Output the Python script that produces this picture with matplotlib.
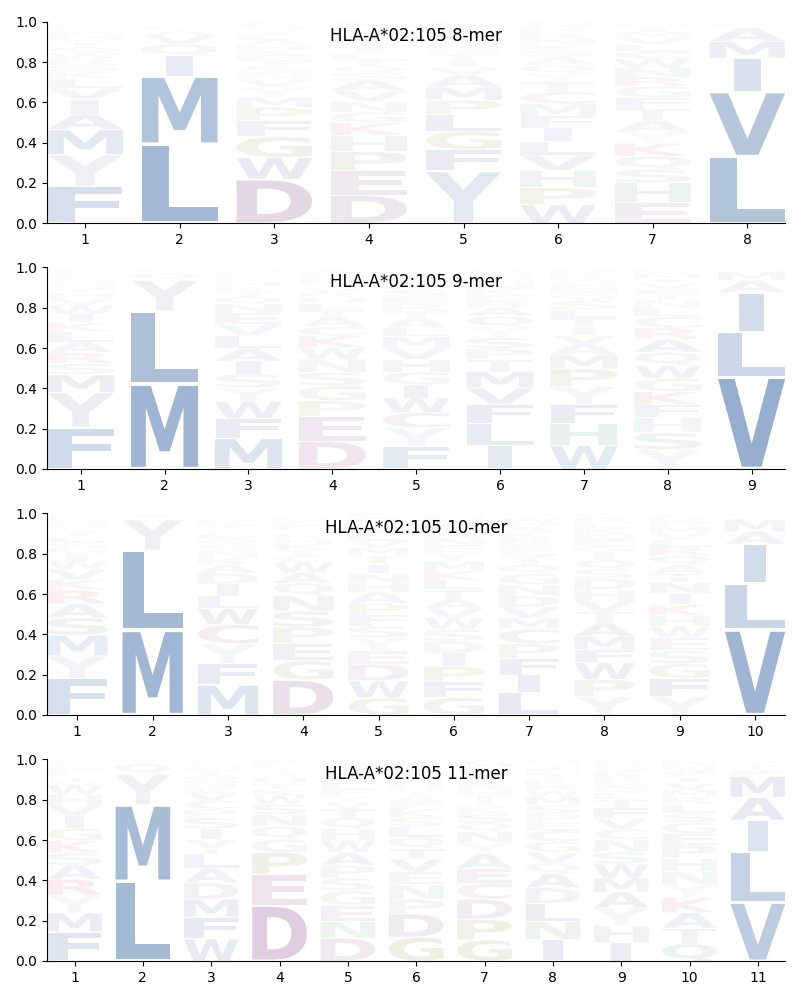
import matplotlib
matplotlib.use('Agg')
import matplotlib.pyplot as plt
from matplotlib.textpath import TextPath
from matplotlib.patches import PathPatch
from matplotlib.font_manager import FontProperties
from matplotlib.transforms import Affine2D

allele = 'HLA-A*02:105'

aa8 = ['FYMIAVLKSRWQTHNEDCGP', 'LMIQVATFYS', 'DWGFPMYVNSTEKHALIQRC',
       'DEPHKGNVASQTLIYFWMRC', 'YFGLPMAVITSNQHWEKRDC', 'WPHVLIFMCTYQASENRKDG',
       'EHSQKYATFGRNWCLVMIDP', 'LVIMATFC']
p8 = [[.177, .154, .12, .07, .075, .055, .045, .035, .03, .03, .03, .025, .025, .02, .02, .015, .015, .01, .01, .01],
      [.385, .33, .10, .055, .045, .02, .015, .01, .01, .01],
      [.218, .108, .104, .08, .066, .05, .05, .04, .03, .03, .03, .03, .025, .025, .025, .025, .02, .02, .015, .01],
      [.132, .116, .09, .075, .06, .05, .05, .05, .05, .035, .03, .03, .03, .025, .025, .025, .02, .02, .02, .015],
      [.26, .107, .09, .083, .072, .065, .06, .04, .03, .03, .025, .02, .02, .02, .02, .015, .015, .01, .01, .01],
      [.09, .083, .083, .074, .066, .066, .058, .058, .058, .05, .04, .04, .04, .03, .03, .025, .025, .02, .02, .02],
      [.09, .088, .058, .058, .058, .05, .05, .05, .05, .05, .04, .04, .04, .033, .03, .03, .025, .02, .015, .01],
      [.32, .31, .16, .08, .065, .01, .01, .01]]

aa9 = ['FYMSRALKIWVHTQNCEDGP', 'MLYQVFI', 'MFWYSIALVENQTKHRCPGD',
       'DEPGSNWKCATLHRVYMFIQ', 'FYCWIGHVMLATRESKQNDP', 'ILFVMTPSYQAREKNHWGDC',
       'WHFYPMAVITLSQNEGRKDC', 'YSHFKGWQARCLNTEVIMDP', 'VLIAMFT']
p9 = [[.194, .166, .083, .052, .051, .05, .049, .042, .041, .04, .033, .025, .02, .02, .02, .015, .015, .01, .01, .01],
      [.41, .35, .15, .03, .01, .01, .01],
      [.136, .088, .075, .062, .06, .058, .057, .056, .05, .05, .04, .033, .025, .02, .02, .015, .015, .015, .01, .01],
      [.12, .108, .066, .065, .058, .057, .05, .05, .04, .04, .03, .03, .025, .02, .02, .02, .02, .015, .015, .02],
      [.1, .083, .066, .065, .058, .057, .056, .05, .05, .04, .04, .033, .033, .03, .03, .025, .025, .02, .015, .015],
      [.11, .1, .09, .075, .074, .058, .05, .05, .05, .05, .04, .03, .03, .025, .025, .02, .02, .015, .01, .01],
      [.11, .1, .09, .083, .082, .066, .05, .04, .04, .04, .04, .04, .03, .025, .02, .02, .02, .015, .015, .01],
      [.086, .075, .066, .058, .058, .058, .058, .058, .058, .05, .05, .04, .033, .025, .025, .025, .02, .02, .015, .015],
      [.45, .22, .19, .06, .043, .01, .01]]

aa10 = ['FYMSARKVWIGCLTQHNEDP', 'MLYQFV', 'MFYCWLIDAKNSQEGTRHVP',
        'DGENPSQAWCTKHRYFLVMI', 'GWDEYSFPAHNITMVLKQRC', 'GFPIDSWVATLKMYHENRQC',
        'LIFPCMVDNGQTSERKAHWY', 'YPWFMATVHDSQIGENKLRC', 'YFGSEWHKINTAQRLVMPDC',
        'VLIAMFTC']
p10 = [[.174, .108, .1, .083, .066, .066, .05, .05, .04, .033, .033, .025, .025, .02, .02, .02, .015, .015, .01, .01],
       [.415, .39, .15, .01, .01, .01],
       [.14, .1, .092, .09, .074, .058, .057, .05, .04, .033, .03, .03, .025, .025, .02, .02, .015, .015, .015, .01],
       [.166, .09, .084, .074, .076, .075, .058, .05, .05, .03, .03, .025, .025, .02, .02, .02, .02, .015, .015, .01],
       [.075, .074, .073, .058, .058, .05, .05, .05, .05, .04, .04, .04, .04, .033, .03, .03, .025, .025, .02, .02],
       [.075, .066, .066, .058, .05, .05, .05, .04, .04, .04, .04, .04, .04, .04, .025, .03, .03, .03, .03, .02],
       [.1, .08, .075, .066, .066, .05, .05, .05, .05, .05, .04, .033, .033, .03, .025, .025, .025, .02, .02, .02],
       [.083, .075, .075, .058, .058, .058, .05, .05, .05, .05, .04, .04, .033, .03, .03, .025, .025, .025, .02, .02],
       [.083, .083, .066, .058, .058, .05, .05, .05, .05, .05, .04, .04, .04, .04, .03, .03, .03, .025, .02, .015],
       [.415, .225, .19, .062, .058, .01, .01, .01]]

aa11 = ['FMYRAWSKGIVHQTNELCDP', 'LMYQVF', 'WFMDALYISPCVENQTGHRK',
        'DEPGQNSWKTHARYLMFV', 'DNEGHSPAWQTVYFLMKRIC', 'GDPNEVTQLSKFAYHMWIRC',
        'GPDCEAYNQSKITHRFVLMW', 'INLDAQVGCEPSMWRKTFYH', 'IHYAMWSNCVFTLQERKGDP',
        'QTAKYNHPEGSLRMVIFWDC', 'VLIAMFTCS']
p11 = [[.136, .09, .083, .075, .066, .045, .058, .058, .058, .058, .05, .05, .02, .02, .015, .015, .02, .01, .01, .01],
       [.385, .37, .15, .05, .01, .01],
       [.101, .1, .083, .075, .066, .066, .066, .05, .05, .04, .04, .033, .03, .025, .025, .02, .02, .015, .01, .01],
       [.277, .157, .108, .066, .065, .058, .05, .045, .03, .03, .03, .02, .015, .015, .01, .01, .01, .01],
       [.104, .075, .074, .066, .052, .058, .058, .058, .055, .05, .04, .03, .03, .03, .03, .025, .025, .02, .02, .015],
       [.108, .107, .066, .066, .058, .058, .05, .05, .05, .04, .04, .03, .03, .03, .03, .025, .025, .02, .02, .015],
       [.095, .092, .09, .07, .066, .065, .05, .05, .04, .04, .033, .025, .025, .025, .025, .025, .025, .025, .02, .015],
       [.1, .086, .083, .075, .066, .05, .05, .05, .05, .04, .04, .04, .04, .03, .025, .025, .025, .025, .025, .02],
       [.086, .083, .083, .075, .066, .066, .058, .058, .05, .05, .05, .04, .03, .03, .025, .025, .025, .02, .02, .015],
       [.075, .07, .068, .066, .058, .058, .058, .058, .05, .05, .04, .04, .033, .03, .03, .025, .025, .02, .02, .015],
       [.277, .24, .15, .108, .1, .03, .02, .02, .01]]

# residue colours (faded by probability)
cols = {}
for c in 'ACFILMVW':
    cols[c] = '#1d5195'
for c in 'DE':
    cols[c] = '#8b4f8b'
for c in 'GP':
    cols[c] = '#7a7a20'
for c in 'KR':
    cols[c] = '#cc2020'
for c in 'STNQ':
    cols[c] = '#2e8b3e'
cols['H'] = '#3a8a7a'
cols['Y'] = '#8fa9c4'
cols['C'] = '#a04070'

fp = FontProperties(family='DejaVu Sans', weight='bold')
ew = TextPath((0, 0), 'E', size=1, prop=fp).get_extents().width


def draw_char(ax, c, x, y, h, a, width=0.8, vpad=0.05):
    path = TextPath((0, 0), c, size=1, prop=fp)
    ext = path.get_extents()
    hs = min(width / ext.width, width / ew)
    vs = h * (1 - vpad) / ext.height
    cw = ext.width * hs
    tr = Affine2D().translate(-ext.x0, -ext.y0).scale(hs, vs).translate(x - cw / 2, y + h * vpad / 2)
    ax.add_patch(PathPatch(tr.transform_path(path), fc=cols[c], ec='none', lw=0, alpha=min(1, a)))


def logo(ax, aas, probs, nmer):
    for i, (aa, pr) in enumerate(zip(aas, probs)):
        tot = sum(pr)
        vals = sorted(zip(aa, [v / tot for v in pr]), key=lambda t: -t[1])
        y = 0
        for c, v in vals:
            draw_char(ax, c, i + 1, y, v, v)
            y += v
    n = len(aas)
    ax.set_xlim(0.6, n + 0.4)
    ax.set_ylim(0, 1)
    ax.set_xticks(range(1, n + 1))
    ax.set_yticks([0, 0.2, 0.4, 0.6, 0.8, 1.0])
    ax.spines['top'].set_visible(False)
    ax.spines['right'].set_visible(False)
    ax.text(0.5, 0.93, '%s %d-mer' % (allele, nmer), transform=ax.transAxes,
            ha='center', va='center', fontsize=12, zorder=10)


fig = plt.figure(figsize=(8, 10), dpi=100)
bottoms = [0.7767, 0.531, 0.285, 0.039]
data = [(aa8, p8, 8), (aa9, p9, 9), (aa10, p10, 10), (aa11, p11, 11)]
for b, (aas, pr, n) in zip(bottoms, data):
    ax = fig.add_axes([0.059, b, 0.9225, 0.2016])
    logo(ax, aas, pr, n)

fig.savefig('out.png', dpi=100)
